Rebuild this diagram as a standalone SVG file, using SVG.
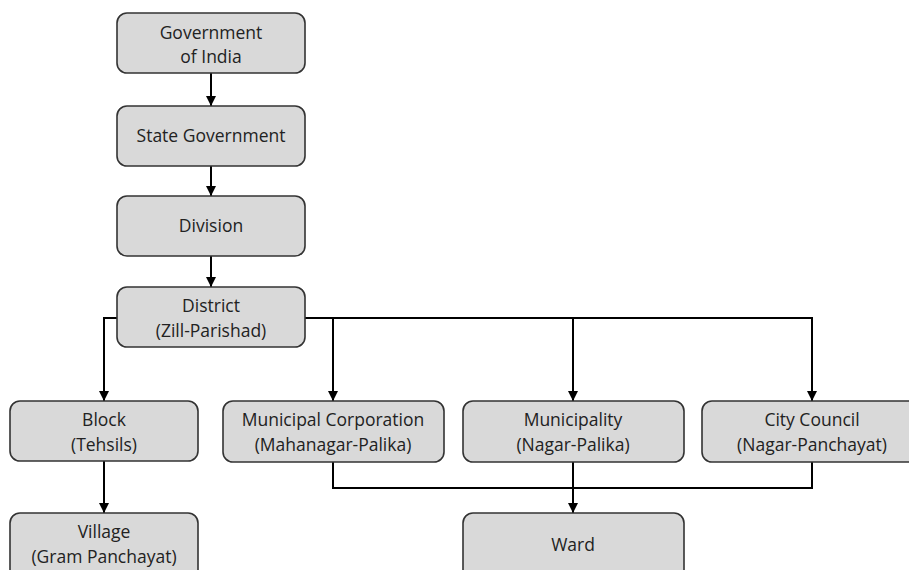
<svg xmlns="http://www.w3.org/2000/svg" width="909" height="570" viewBox="0 0 909 570">
<defs>
<marker id="ah" viewBox="0 0 10 10" refX="10" refY="5" markerWidth="10" markerHeight="10" markerUnits="userSpaceOnUse" orient="auto">
<path d="M0,0 L10,5 L0,10 Z" fill="#000"/>
</marker>
</defs>
<style>
rect{fill:#d9d9d9;stroke:#333;stroke-width:1.6}
text{font-family:"Open Sans","Liberation Sans",sans-serif;font-size:17.5px;fill:#222;text-anchor:middle}
.c{fill:none;stroke:#000;stroke-width:2}
</style>
<rect x="0" y="0" width="909" height="570" style="fill:#fff;stroke:none"/>
<g id="connectors">
<path class="c" d="M211,73 V106" marker-end="url(#ah)"/>
<path class="c" d="M211,166 V196" marker-end="url(#ah)"/>
<path class="c" d="M211,256 V287" marker-end="url(#ah)"/>
<path class="c" d="M117,318 H104 V401" marker-end="url(#ah)"/>
<path class="c" d="M305,318 H812 V401" marker-end="url(#ah)"/>
<path class="c" d="M333,318 V401" marker-end="url(#ah)"/>
<path class="c" d="M573,318 V401" marker-end="url(#ah)"/>
<path class="c" d="M104,461 V513" marker-end="url(#ah)"/>
<path class="c" d="M333,462 V488 H812 V462"/>
<path class="c" d="M573,462 V513" marker-end="url(#ah)"/>
</g>
<g id="gov-india"><rect x="117" y="13" width="188" height="60" rx="10"/><text x="211" y="39">Government</text><text x="211" y="63">of India</text></g>
<g id="state-gov"><rect x="117" y="106" width="188" height="60" rx="10"/><text x="211" y="142">State Government</text></g>
<g id="division"><rect x="117" y="196" width="188" height="60" rx="10"/><text x="211" y="232">Division</text></g>
<g id="district"><rect x="117" y="287" width="188" height="60" rx="10"/><text x="211" y="312">District</text><text x="211" y="337">(Zill-Parishad)</text></g>
<g id="block"><rect x="10" y="401" width="188" height="60" rx="10"/><text x="104" y="426">Block</text><text x="104" y="451">(Tehsils)</text></g>
<g id="municipal-corp"><rect x="223" y="401" width="221" height="61" rx="10"/><text x="333" y="426">Municipal Corporation</text><text x="333" y="451">(Mahanagar-Palika)</text></g>
<g id="municipality"><rect x="463" y="401" width="221" height="61" rx="10"/><text x="573" y="426">Municipality</text><text x="573" y="451">(Nagar-Palika)</text></g>
<g id="city-council"><rect x="702" y="401" width="221" height="61" rx="10"/><text x="812" y="426">City Council</text><text x="812" y="451">(Nagar-Panchayat)</text></g>
<g id="village"><rect x="10" y="513" width="188" height="70" rx="10"/><text x="104" y="538">Village</text><text x="104" y="563">(Gram Panchayat)</text></g>
<g id="ward"><rect x="463" y="513" width="221" height="70" rx="10"/><text x="573" y="551">Ward</text></g>
</svg>
